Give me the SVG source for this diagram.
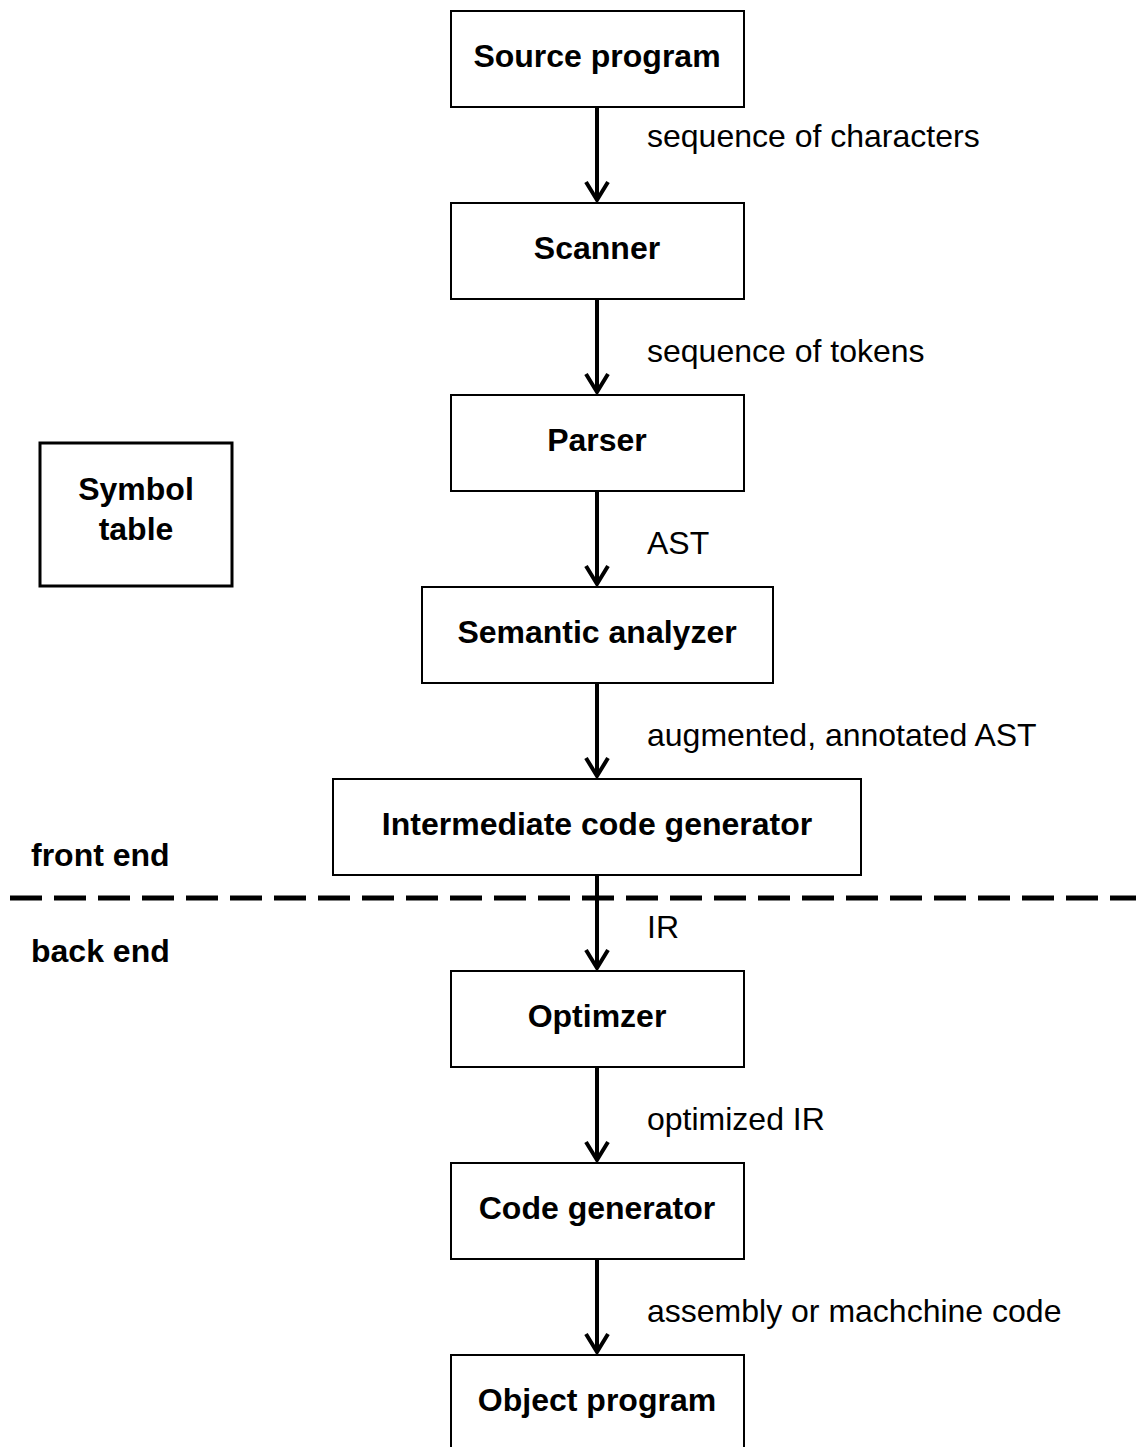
<svg xmlns="http://www.w3.org/2000/svg" width="1136" height="1447" viewBox="0 0 1136 1447">
<style>
.box{fill:#fff;stroke:#000;stroke-width:2}
.nt{font-family:"Liberation Sans",Arial,sans-serif;font-size:32px;font-weight:bold;text-anchor:middle;fill:#000}
.lb{font-family:"Liberation Sans",Arial,sans-serif;font-size:32px;fill:#000}
.sec{font-family:"Liberation Sans",Arial,sans-serif;font-size:32px;font-weight:bold;fill:#000}
.ar{stroke:#000;stroke-width:4;fill:none;stroke-linejoin:miter}
</style>
<rect width="1136" height="1447" fill="#fff"/>
<g id="divider">
<line x1="10" y1="898" x2="1136" y2="898" stroke="#000" stroke-width="5" stroke-dasharray="32 12"/>
<text class="sec" x="31" y="866">front end</text>
<text class="sec" x="31" y="962">back end</text>
</g>
<g id="connectors">
<g class="ar">
<path d="M597 107V199M586 182L597 200L608 182"/>
<path d="M597 299V391M586 374L597 392L608 374"/>
<path d="M597 491V583M586 566L597 584L608 566"/>
<path d="M597 683V775M586 758L597 776L608 758"/>
<path d="M597 875V967M586 950L597 968L608 950"/>
<path d="M597 1067V1159M586 1142L597 1160L608 1142"/>
<path d="M597 1259V1351M586 1334L597 1352L608 1334"/>
</g>
<text class="lb" x="647" y="147">sequence of characters</text>
<text class="lb" x="647" y="362">sequence of tokens</text>
<text class="lb" x="647" y="554">AST</text>
<text class="lb" x="647" y="746">augmented, annotated AST</text>
<text class="lb" x="647" y="938">IR</text>
<text class="lb" x="647" y="1130">optimized IR</text>
<text class="lb" x="647" y="1322">assembly or machchine code</text>
</g>
<g id="source"><rect class="box" x="451" y="11" width="293" height="96"/><text class="nt" x="597" y="67">Source program</text></g>
<g id="scanner"><rect class="box" x="451" y="203" width="293" height="96"/><text class="nt" x="597" y="259">Scanner</text></g>
<g id="parser"><rect class="box" x="451" y="395" width="293" height="96"/><text class="nt" x="597" y="451">Parser</text></g>
<g id="semantic"><rect class="box" x="422" y="587" width="351" height="96"/><text class="nt" x="597" y="643">Semantic analyzer</text></g>
<g id="intermediate"><rect class="box" x="333" y="779" width="528" height="96"/><text class="nt" x="597" y="835">Intermediate code generator</text></g>
<g id="optimizer"><rect class="box" x="451" y="971" width="293" height="96"/><text class="nt" x="597" y="1027">Optimzer</text></g>
<g id="codegen"><rect class="box" x="451" y="1163" width="293" height="96"/><text class="nt" x="597" y="1219">Code generator</text></g>
<g id="object"><rect class="box" x="451" y="1355" width="293" height="110"/><text class="nt" x="597" y="1411">Object program</text></g>
<g id="symtab"><rect class="box" x="40" y="443" width="192" height="143" style="stroke-width:3"/><text class="nt" x="136" y="500">Symbol</text><text class="nt" x="136" y="540">table</text></g>
</svg>
